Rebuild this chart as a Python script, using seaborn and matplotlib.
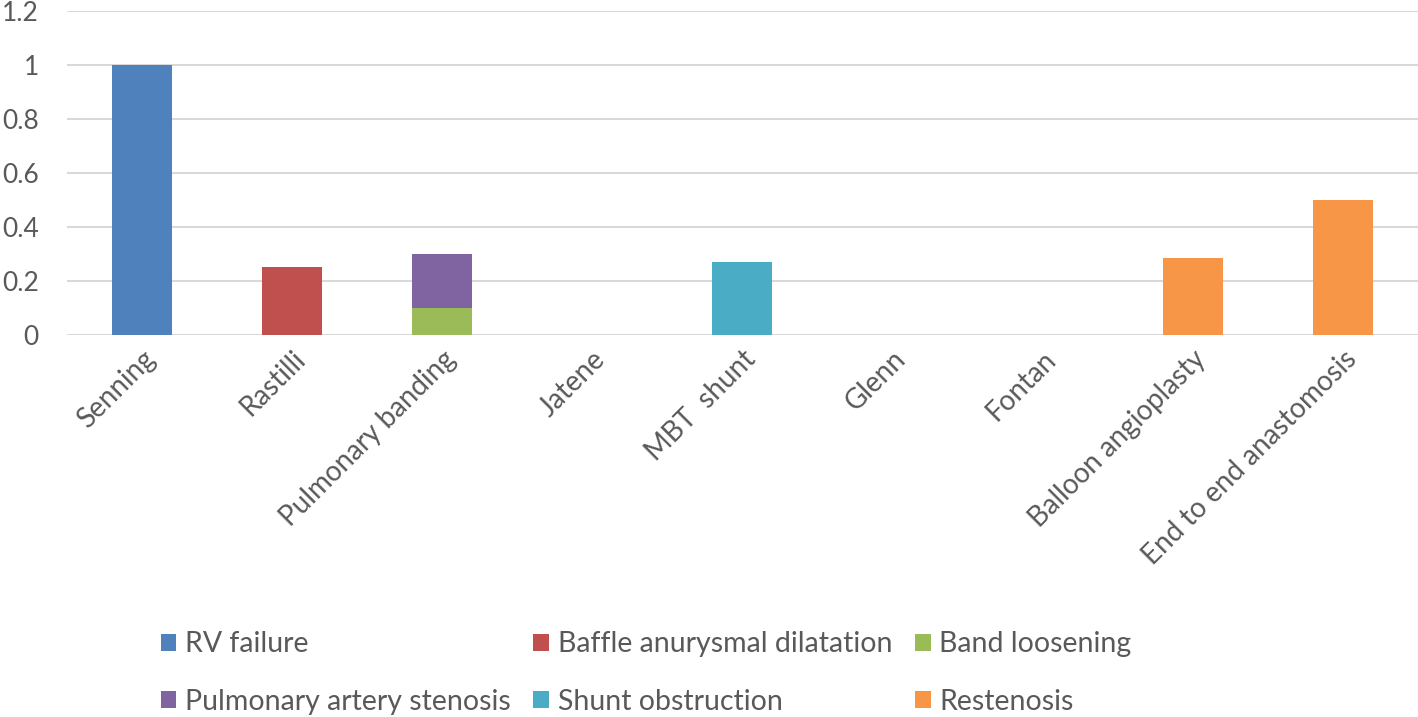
import matplotlib
matplotlib.use("Agg")
import numpy as np
import pandas as pd
import matplotlib.pyplot as plt
import seaborn as sns
from matplotlib.patches import Patch

categories = ["Senning", "Rastilli", "Pulmonary banding", "Jatene", "MBT  shunt",
              "Glenn", "Fontan", "Balloon angioplasty", "End to end anastomosis"]
series = ["RV failure", "Baffle anurysmal dilatation", "Band loosening",
          "Pulmonary artery stenosis", "Shunt obstruction", "Restenosis"]
rv_failure = [1.0, 0, 0, 0, 0, 0, 0, 0, 0]
baffle = [0, 0.25, 0, 0, 0, 0, 0, 0, 0]
band_loosening = [0, 0, 0.1, 0, 0, 0, 0, 0, 0]
pa_stenosis = [0, 0, 0.2, 0, 0, 0, 0, 0, 0]
shunt_obstruction = [0, 0, 0, 0, 0.27, 0, 0, 0, 0]
restenosis = [0, 0, 0, 0, 0, 0, 0, 0.285, 0.5]
colors = ["#4F81BD", "#C0504D", "#9BBB59", "#8064A2", "#4BACC6", "#F79646"]

sns.set_style("white")
plt.rcParams['font.family'] = ['Lato', 'DejaVu Sans']

values = np.array([rv_failure, baffle, band_loosening, pa_stenosis,
                   shunt_obstruction, restenosis])
cum = values.cumsum(axis=0)

fig = plt.figure(figsize=(14.18, 7.17), dpi=100)
ax = fig.add_axes([0.047, 0.533, 0.953, 0.452])

# stacked bars: draw cumulative heights back to front
for i in range(len(series) - 1, -1, -1):
    df = pd.DataFrame({"cat": categories, "val": cum[i]})
    sns.barplot(data=df, x="cat", y="val", color=colors[i], width=0.4,
                saturation=1, ax=ax, zorder=3, linewidth=0)

ax.set_ylim(0, 1.2)
ax.set_xlim(-0.5, len(categories) - 0.5)
ax.set_yticks(np.arange(0, 1.21, 0.2))
ax.set_yticklabels(["0", "0.2", "0.4", "0.6", "0.8", "1", "1.2"])
ax.yaxis.grid(True, color="#D9D9D9", linewidth=1.5, zorder=0)
ax.axhline(0, color="#D9D9D9", linewidth=2, zorder=1)
ax.set_axisbelow(True)
for s in ax.spines.values():
    s.set_visible(False)
ax.set_xlabel("")
ax.set_ylabel("")
ax.tick_params(axis="both", length=0, colors="#595959", labelsize=20, pad=8)
ax.tick_params(axis="y", labelsize=19, pad=20)
plt.setp(ax.get_xticklabels(), rotation=45, ha="right", rotation_mode="anchor")

handles = [Patch(facecolor=c, edgecolor="none") for c in colors]
order = [0, 3, 1, 4, 2, 5]
fig.legend([handles[k] for k in order], [series[k] for k in order],
           loc="center", bbox_to_anchor=(646 / 1418, 1 - 673 / 717), ncol=3,
           frameon=False, fontsize=20.5, labelcolor="#595959",
           handlelength=0.55, handleheight=0.55, handletextpad=0.3,
           columnspacing=0.8, labelspacing=1.1)

fig.savefig("out.png", dpi=100)
